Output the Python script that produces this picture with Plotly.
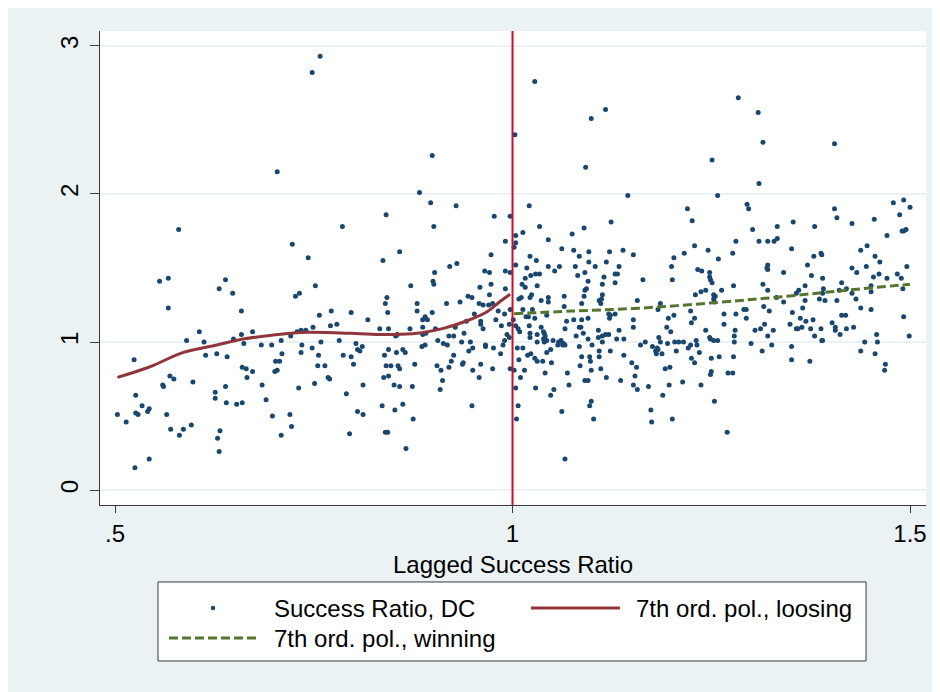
import plotly.graph_objects as go

# Scatter: (lagged success ratio, success ratio DC)
dc_losing = [
    (0.704, 2.15), (0.580, 1.76), (0.723, 1.66), (0.743, 1.57),
    (0.556, 1.41), (0.567, 1.43), (0.567, 1.23), (0.631, 1.36), (0.639, 1.42), (0.648, 1.33),
    (0.659, 1.21), (0.727, 1.31), (0.732, 1.33), (0.524, 0.88), (0.590, 1.01), (0.606, 1.07),
    (0.612, 1.00), (0.614, 0.91), (0.628, 0.92), (0.641, 0.90), (0.649, 1.02), (0.659, 1.05),
    (0.662, 0.99), (0.673, 1.07), (0.684, 0.98), (0.697, 0.98), (0.709, 1.01), (0.710, 0.92),
    (0.702, 0.87), (0.707, 0.87), (0.704, 0.81), (0.701, 0.80), (0.721, 1.04), (0.729, 1.07),
    (0.734, 1.08), (0.740, 1.08), (0.735, 0.98), (0.734, 0.93), (0.731, 0.69), (0.660, 0.83),
    (0.665, 0.82), (0.673, 0.80), (0.666, 0.76), (0.685, 0.71), (0.690, 0.61), (0.698, 0.50),
    (0.709, 0.37), (0.720, 0.51), (0.722, 0.43), (0.569, 0.77), (0.574, 0.75), (0.560, 0.71),
    (0.561, 0.70), (0.598, 0.73), (0.626, 0.66), (0.626, 0.62), (0.639, 0.70), (0.640, 0.59),
    (0.653, 0.58), (0.660, 0.59), (0.526, 0.64), (0.503, 0.51), (0.514, 0.46), (0.526, 0.52),
    (0.529, 0.51), (0.534, 0.57), (0.541, 0.53), (0.543, 0.55), (0.565, 0.51), (0.570, 0.41),
    (0.581, 0.37), (0.586, 0.41), (0.596, 0.44), (0.629, 0.35), (0.632, 0.40), (0.631, 0.26),
    (0.525, 0.15), (0.543, 0.21),
    (0.758, 2.93), (0.748, 2.82), (0.899, 2.26), (0.883, 2.01), (0.897, 1.94), (0.929, 1.92),
    (0.841, 1.86), (0.786, 1.78), (0.901, 1.78), (0.977, 1.85), (0.997, 1.85), (0.991, 1.68),
    (0.837, 1.55), (0.858, 1.61), (0.921, 1.51), (0.930, 1.53), (0.973, 1.59),
    (0.965, 1.48), (0.971, 1.47), (0.991, 1.48), (0.997, 1.47), (0.752, 1.38), (0.902, 1.47),
    (0.900, 1.41), (0.901, 1.39), (0.872, 1.38), (0.944, 1.31), (0.949, 1.30), (0.959, 1.37),
    (0.973, 1.39), (0.971, 1.32), (0.991, 1.36), (0.842, 1.30), (0.840, 1.26), (0.880, 1.26),
    (0.917, 1.26), (0.934, 1.27), (0.958, 1.26), (0.963, 1.25), (0.970, 1.25), (0.975, 1.26),
    (0.772, 1.21), (0.797, 1.20), (0.843, 1.20), (0.880, 1.21), (0.899, 1.20), (0.757, 1.18),
    (0.818, 1.15), (0.887, 1.15), (0.890, 1.17), (0.893, 1.15), (0.942, 1.14), (0.952, 1.19),
    (0.960, 1.14), (0.960, 1.12), (0.963, 1.09), (0.979, 1.15), (0.982, 1.21), (0.990, 1.19),
    (0.997, 1.22), (0.986, 1.11), (0.996, 1.12), (0.779, 1.12), (0.771, 1.11), (0.749, 1.10),
    (0.833, 1.09), (0.844, 1.09), (0.871, 1.09), (0.887, 1.10), (0.903, 1.09), (0.928, 1.10),
    (0.939, 1.06), (0.887, 1.05), (0.891, 1.06), (0.853, 1.04), (0.855, 1.05), (0.920, 1.04),
    (0.926, 1.04), (0.990, 1.01), (0.993, 1.05), (0.996, 1.03), (0.748, 0.96), (0.759, 1.00),
    (0.782, 1.01), (0.803, 0.99), (0.811, 0.97), (0.805, 0.95), (0.808, 0.94), (0.844, 0.95),
    (0.839, 0.91), (0.854, 0.93), (0.862, 0.95), (0.865, 0.93), (0.886, 0.97), (0.890, 0.98),
    (0.906, 1.01), (0.913, 0.99), (0.918, 0.98), (0.936, 1.00), (0.926, 0.91), (0.947, 1.00),
    (0.950, 0.96), (0.945, 0.94), (0.966, 0.98), (0.966, 0.97), (0.976, 0.96), (0.988, 0.98),
    (0.985, 0.92), (0.787, 0.91), (0.797, 0.90), (0.756, 0.91), (0.800, 0.85), (0.755, 0.84),
    (0.764, 0.84), (0.841, 0.84), (0.847, 0.84), (0.856, 0.84), (0.858, 0.82), (0.877, 0.85),
    (0.923, 0.87), (0.937, 0.85), (0.938, 0.86), (0.920, 0.83), (0.905, 0.84), (0.910, 0.81),
    (0.950, 0.81), (0.960, 0.85), (0.975, 0.82), (0.997, 0.82), (0.768, 0.76), (0.770, 0.75),
    (0.751, 0.72), (0.812, 0.71), (0.838, 0.76), (0.844, 0.77), (0.851, 0.71), (0.858, 0.70),
    (0.874, 0.70), (0.912, 0.74), (0.909, 0.68), (0.958, 0.76), (0.791, 0.65), (0.836, 0.57),
    (0.862, 0.58), (0.852, 0.54), (0.805, 0.53), (0.812, 0.51), (0.875, 0.48), (0.949, 0.57),
    (0.795, 0.38), (0.840, 0.39), (0.843, 0.39), (0.866, 0.28),
]

dc_winning = [
    (1.003, 2.40), (1.028, 2.76), (1.117, 2.57), (1.099, 2.51), (1.092, 2.18), (1.251, 2.23),
    (1.145, 1.99), (1.258, 1.99), (1.021, 1.92), (1.220, 1.90), (1.226, 1.82), (1.034, 1.78),
    (1.124, 1.81), (1.090, 1.77), (1.075, 1.73), (1.013, 1.74), (1.004, 1.72), (1.004, 1.67),
    (1.002, 1.64), (1.045, 1.69), (1.062, 1.63), (1.077, 1.62), (1.096, 1.61), (1.084, 1.58),
    (1.122, 1.61), (1.139, 1.62), (1.152, 1.59), (1.022, 1.58), (1.030, 1.55), (1.096, 1.54),
    (1.118, 1.54), (1.216, 1.60), (1.229, 1.65), (1.246, 1.62), (1.203, 1.57), (1.259, 1.56),
    (1.200, 1.51), (1.004, 1.52), (1.018, 1.50), (1.045, 1.51), (1.059, 1.51), (1.079, 1.51),
    (1.104, 1.51), (1.134, 1.51), (1.233, 1.49),
    (1.238, 1.48), (1.248, 1.47), (1.053, 1.48), (1.091, 1.47), (1.115, 1.44), (1.082, 1.45),
    (1.129, 1.46), (1.132, 1.46), (1.029, 1.46), (1.034, 1.46), (1.023, 1.45), (1.016, 1.43),
    (1.164, 1.42), (1.201, 1.42), (1.248, 1.44), (1.249, 1.42), (1.251, 1.40), (1.012, 1.39),
    (1.016, 1.37), (1.031, 1.38), (1.095, 1.41), (1.113, 1.39), (1.129, 1.40), (1.091, 1.35),
    (1.093, 1.36), (1.113, 1.32), (1.065, 1.31), (1.024, 1.32), (1.022, 1.30), (1.011, 1.30),
    (1.008, 1.29), (1.036, 1.28), (1.045, 1.30), (1.045, 1.27), (1.090, 1.31), (1.087, 1.26),
    (1.109, 1.28), (1.112, 1.29), (1.111, 1.26), (1.157, 1.28), (1.186, 1.26), (1.230, 1.32),
    (1.237, 1.34), (1.243, 1.35), (1.253, 1.32), (1.255, 1.31), (1.253, 1.29), (1.254, 1.27),
    (1.065, 1.24), (1.013, 1.22), (1.025, 1.22), (1.001, 1.15), (1.017, 1.17), (1.020, 1.17),
    (1.028, 1.16), (1.043, 1.18), (1.068, 1.14), (1.077, 1.15), (1.087, 1.15), (1.095, 1.16),
    (1.121, 1.19), (1.123, 1.18), (1.122, 1.16), (1.129, 1.19), (1.152, 1.15), (1.152, 1.10),
    (1.134, 1.08), (1.183, 1.22), (1.203, 1.18), (1.196, 1.16), (1.224, 1.21), (1.229, 1.16),
    (1.225, 1.13), (1.194, 1.10), (1.199, 1.07), (1.243, 1.08), (1.004, 1.11), (1.007, 1.09),
    (1.009, 1.07), (1.021, 1.11), (1.022, 1.06), (1.022, 1.03), (1.031, 1.05), (1.036, 1.10),
    (1.039, 1.07), (1.040, 1.06), (1.041, 1.04), (1.039, 1.02), (1.043, 1.01), (1.040, 1.00),
    (1.031, 1.00), (1.051, 1.01), (1.058, 1.00), (1.061, 1.01), (1.064, 0.99), (1.057, 0.98),
    (1.063, 0.98), (1.066, 0.98), (1.066, 1.09), (1.080, 1.04), (1.084, 1.10), (1.086, 1.10),
    (1.089, 1.06), (1.095, 1.02), (1.100, 0.98), (1.108, 1.08), (1.108, 1.03), (1.113, 1.04),
    (1.117, 1.05), (1.121, 1.05), (1.113, 1.00), (1.131, 1.02), (1.140, 1.02), (1.161, 0.98),
    (1.167, 1.00), (1.176, 0.97), (1.184, 1.03), (1.186, 1.00), (1.182, 0.96), (1.180, 0.94),
    (1.183, 0.95), (1.181, 0.92), (1.188, 0.92), (1.195, 0.99), (1.204, 1.00), (1.209, 1.00),
    (1.206, 0.94), (1.215, 1.00), (1.221, 0.96), (1.224, 0.98), (1.231, 1.01), (1.232, 0.98),
    (1.235, 0.93), (1.225, 0.89), (1.229, 0.86), (1.248, 1.03), (1.249, 1.02), (1.253, 1.01),
    (1.258, 1.01), (1.250, 0.89), (1.250, 0.80), (1.249, 0.78), (1.237, 0.71), (1.254, 0.60),
    (1.006, 0.96), (1.013, 0.96), (1.023, 0.92), (1.019, 0.91), (1.008, 0.88), (1.028, 0.89),
    (1.031, 0.87), (1.038, 0.87), (1.043, 0.93), (1.048, 0.95), (1.049, 0.86), (1.002, 0.81),
    (1.015, 0.81), (1.010, 0.76), (1.041, 0.79), (1.069, 0.79), (1.084, 0.97), (1.087, 0.90),
    (1.097, 0.90), (1.098, 0.87), (1.109, 0.94), (1.109, 0.90), (1.123, 0.94), (1.140, 0.91),
    (1.085, 0.84), (1.099, 0.81), (1.111, 0.82), (1.118, 0.76), (1.091, 0.74), (1.095, 0.74),
    (1.071, 0.71), (1.136, 0.74), (1.150, 0.86), (1.156, 0.83), (1.154, 0.77), (1.152, 0.71),
    (1.157, 0.68), (1.171, 0.70), (1.192, 0.82), (1.198, 0.83), (1.214, 0.73), (1.197, 0.71),
    (1.189, 0.64), (1.004, 0.69), (1.029, 0.69), (1.052, 0.68), (1.048, 0.64), (1.007, 0.57),
    (1.005, 0.48), (1.062, 0.53), (1.099, 0.60), (1.097, 0.57), (1.102, 0.48), (1.174, 0.54),
    (1.175, 0.46), (1.201, 0.48), (1.066, 0.21),
    (1.284, 2.65), (1.309, 2.55), (1.315, 2.35), (1.405, 2.34), (1.310, 2.07), (1.295, 1.93),
    (1.297, 1.90), (1.405, 1.90), (1.408, 1.84), (1.479, 1.94), (1.492, 1.96), (1.500, 1.91),
    (1.487, 1.86), (1.455, 1.83), (1.427, 1.80), (1.353, 1.81), (1.333, 1.78), (1.380, 1.78),
    (1.302, 1.76), (1.281, 1.68), (1.310, 1.68), (1.321, 1.68), (1.329, 1.68), (1.333, 1.70),
    (1.471, 1.72), (1.490, 1.75), (1.492, 1.75), (1.495, 1.76), (1.277, 1.60), (1.351, 1.63),
    (1.379, 1.58), (1.388, 1.60), (1.389, 1.59), (1.438, 1.62), (1.446, 1.65), (1.456, 1.58),
    (1.462, 1.54), (1.371, 1.52), (1.320, 1.50), (1.321, 1.52), (1.427, 1.50), (1.445, 1.51),
    (1.496, 1.51),
    (1.321, 1.49), (1.433, 1.47), (1.341, 1.47), (1.376, 1.45), (1.390, 1.43), (1.454, 1.44),
    (1.461, 1.46), (1.471, 1.43), (1.484, 1.46), (1.489, 1.43), (1.491, 1.36), (1.278, 1.38),
    (1.263, 1.35), (1.315, 1.39), (1.321, 1.35), (1.368, 1.38), (1.360, 1.35), (1.357, 1.33),
    (1.391, 1.36), (1.390, 1.33), (1.414, 1.40), (1.411, 1.35), (1.420, 1.36), (1.427, 1.33),
    (1.451, 1.38), (1.451, 1.34), (1.332, 1.30), (1.341, 1.27), (1.368, 1.28), (1.386, 1.29),
    (1.393, 1.28), (1.408, 1.28), (1.432, 1.29), (1.316, 1.24), (1.323, 1.21), (1.365, 1.23),
    (1.291, 1.22), (1.294, 1.22), (1.266, 1.19), (1.281, 1.19), (1.294, 1.16), (1.352, 1.20),
    (1.438, 1.23), (1.451, 1.22), (1.492, 1.17), (1.362, 1.16), (1.369, 1.14), (1.378, 1.15),
    (1.414, 1.18), (1.419, 1.18), (1.402, 1.13), (1.266, 1.12), (1.280, 1.08), (1.305, 1.08),
    (1.312, 1.09), (1.317, 1.12), (1.328, 1.08), (1.349, 1.12), (1.357, 1.09), (1.359, 1.09),
    (1.364, 1.10), (1.375, 1.09), (1.388, 1.09), (1.406, 1.10), (1.406, 1.08), (1.412, 1.05),
    (1.420, 1.09), (1.429, 1.10), (1.279, 1.04), (1.279, 1.00), (1.300, 0.99), (1.321, 1.04),
    (1.326, 0.98), (1.314, 0.94), (1.351, 0.97), (1.351, 0.88), (1.374, 0.87), (1.380, 1.04),
    (1.390, 1.01), (1.389, 1.01), (1.443, 1.00), (1.458, 1.05), (1.459, 1.00), (1.438, 0.94),
    (1.456, 0.92), (1.499, 1.04), (1.469, 0.85), (1.468, 0.81), (1.260, 0.90), (1.278, 0.90),
    (1.271, 0.79), (1.277, 0.79), (1.270, 0.39),
]

lagged_ratio = [p[0] for p in dc_losing + dc_winning]
success_ratio = [p[1] for p in dc_losing + dc_winning]

# 7th-order polynomial fits
loosing_x = [0.503, 0.544, 0.586, 0.628, 0.661, 0.699, 0.733, 0.775, 0.817, 0.859,
             0.888, 0.913, 0.942, 0.968, 0.984, 0.997]
loosing_y = [0.761, 0.833, 0.930, 0.980, 1.020, 1.047, 1.065, 1.063, 1.054, 1.052,
             1.065, 1.092, 1.142, 1.205, 1.272, 1.322]
winning_x = [1.002, 1.074, 1.158, 1.259, 1.339, 1.422, 1.500]
winning_y = [1.191, 1.209, 1.228, 1.268, 1.306, 1.351, 1.390]

series_names = ["Success Ratio, DC", "7th ord. pol., loosing", "7th ord. pol., winning"]
x_title = "Lagged Success Ratio"
cutoff = 1.0
x_ticks = [0.5, 1.0, 1.5]
x_tick_labels = [".5", "1", "1.5"]
y_ticks = [0, 1, 2, 3]
y_tick_labels = ["0", "1", "2", "3"]

FONT = "Liberation Sans, Arial, Helvetica, sans-serif"
BG = "#eaf2f3"
AX = "#3a3a3a"
NAVY = "#1a476f"
MAROON = "#90353b"
FOREST = "#55752f"
FS = 24
DASH = "9px,4px"

fig = go.Figure()
fig.add_trace(go.Scatter(
    x=lagged_ratio, y=success_ratio, mode="markers", name=series_names[0],
    marker=dict(color=NAVY, size=5, line=dict(width=0)),
))
fig.add_trace(go.Scatter(
    x=loosing_x, y=loosing_y, mode="lines", name=series_names[1],
    line=dict(color=MAROON, width=3, shape="spline"),
))
fig.add_trace(go.Scatter(
    x=winning_x, y=winning_y, mode="lines", name=series_names[2],
    line=dict(color=FOREST, width=3, dash=DASH, shape="spline"),
))

fig.add_shape(type="line", xref="x", yref="paper", x0=cutoff, x1=cutoff, y0=0, y1=1,
              line=dict(color="#c8102e", width=2), layer="above")

# ---- legend box drawn below the plot (Stata style, 2 columns) ----
LX0, LX1, LY0, LY1 = 0.0702, 0.9274, -0.1624, -0.3291
ROW1, ROW2 = -0.2173, -0.2806
fig.add_shape(type="rect", xref="paper", yref="paper", x0=LX0, x1=LX1, y0=LY0, y1=LY1,
              fillcolor="white", line=dict(color=AX, width=1))
fig.add_shape(type="circle", xref="paper", yref="paper",
              x0=0.1368 - 0.0027, x1=0.1368 + 0.0027, y0=ROW1 - 0.0047, y1=ROW1 + 0.0047,
              fillcolor=NAVY, line=dict(width=0))
fig.add_shape(type="line", xref="paper", yref="paper", x0=0.5218, x1=0.6295, y0=ROW1, y1=ROW1,
              line=dict(color=MAROON, width=3))
fig.add_shape(type="line", xref="paper", yref="paper", x0=0.0835, x1=0.1913, y0=ROW2, y1=ROW2,
              line=dict(color=FOREST, width=3, dash=DASH))
for txt, lx, ly in [(series_names[0], 0.2094, ROW1), (series_names[1], 0.6477, ROW1),
                    (series_names[2], 0.2094, ROW2)]:
    fig.add_annotation(text=txt, xref="paper", yref="paper", x=lx, y=ly,
                       xanchor="left", yanchor="middle", showarrow=False,
                       font=dict(size=FS, color="black", family=FONT), borderpad=0)

fig.add_annotation(text=x_title, xref="paper", yref="paper", x=0.5, y=-0.1245,
                   xanchor="center", yanchor="middle", showarrow=False, borderpad=0,
                   font=dict(size=FS, color="black", family=FONT))

fig.update_layout(
    width=932, height=684,
    paper_bgcolor=BG, plot_bgcolor="white",
    margin=dict(l=92, r=14, t=23, b=187),
    font=dict(family=FONT, size=FS, color="black"),
    showlegend=False,
    xaxis=dict(
        range=[0.4811, 1.5201], tickmode="array", tickvals=x_ticks, ticktext=x_tick_labels,
        showgrid=False, zeroline=False, showline=True, linecolor=AX, linewidth=1,
        ticks="outside", ticklen=7, tickcolor=AX, tickwidth=1,
        tickfont=dict(size=FS, color="black"),
    ),
    yaxis=dict(
        range=[-0.101, 3.101], tickmode="array", tickvals=y_ticks, ticktext=y_tick_labels,
        showgrid=True, gridcolor=BG, gridwidth=1.5, zeroline=False,
        showline=True, linecolor=AX, linewidth=1,
        ticks="outside", ticklen=9, tickcolor=AX, tickwidth=1,
        tickangle=-90, ticklabelstandoff=2, tickfont=dict(size=FS, color="black"),
    ),
)

fig.write_html("out.html")
